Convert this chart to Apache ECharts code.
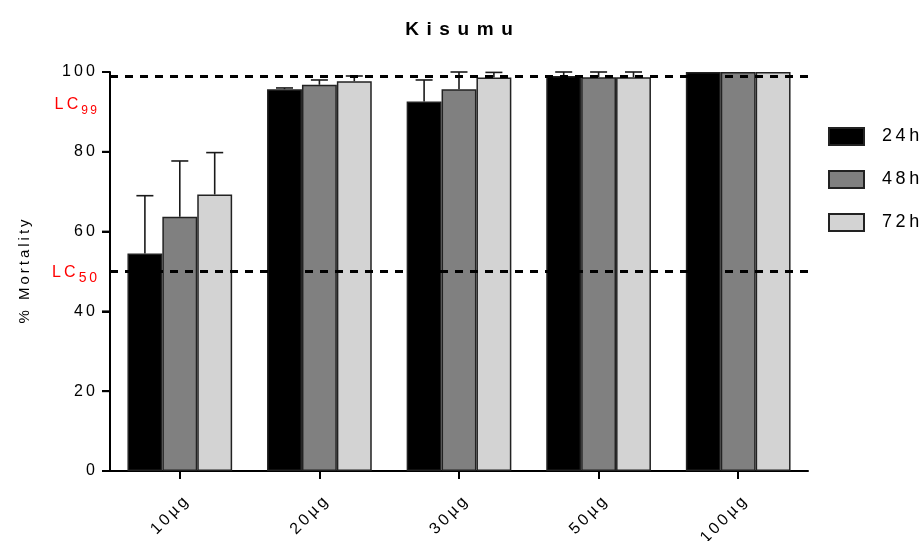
<!DOCTYPE html>
<html><head><meta charset="utf-8">
<script src="https://cdn.jsdelivr.net/npm/echarts@6/dist/echarts.min.js"></script>
<style>html,body{margin:0;padding:0;background:#fff}#c{width:923px;height:541px}</style>
</head><body><div id="c"></div>
<script>
var categories = ['10µg', '20µg', '30µg', '50µg', '100µg'];
var seriesNames = ['24h', '48h', '72h'];
var values24 = [54.5, 95.7, 92.6, 99.0, 100];
var values48 = [63.7, 96.8, 95.7, 98.7, 100];
var values72 = [69.3, 97.7, 98.6, 98.7, 100];
var err24 = [14.5, 0.3, 5.4, 1.0, 0];
var err48 = [14.0, 1.2, 4.3, 1.3, 0];
var err72 = [10.5, 1.3, 1.3, 1.3, 0];
var yTicks = [0, 20, 40, 60, 80, 100];
var lcLines = [99, 50];
var lcLabels = ['99', '50'];
var colors = ['#000000', '#808080', '#d3d3d3'];

var FONT = 'Arial, "Liberation Sans", sans-serif';
function sp(s){ return String(s).split('').join('\u2009'); }

var vals = [values24, values48, values72];
var errs = [err24, err48, err72];

var series = [];
seriesNames.forEach(function(n, i){
  series.push({
    name: n, type: 'bar', data: vals[i],
    barGap: 0, barCategoryGap: '25%',
    itemStyle: { color: colors[i], borderColor: '#222', borderWidth: 1.5 },
    z: 2
  });
});
seriesNames.forEach(function(n, i){
  series.push({
    type: 'custom', name: n + '_err',
    data: vals[i].map(function(v, k){ return [k, v, v + errs[i][k]]; }),
    encode: { x: 0, y: [1, 2] },
    z: 3, silent: true,
    renderItem: function(params, api){
      var k = api.value(0);
      var lo = api.coord([k, api.value(1)]);
      var hi = api.coord([k, api.value(2)]);
      var band = api.size([1, 0])[0];
      var bw = band * 0.75 / 3;
      var x = lo[0] + (i - 1) * bw;
      var cap = 8.5;
      if (api.value(2) - api.value(1) <= 0) return null;
      return { type: 'group', children: [
        { type: 'line', shape: { x1: x, y1: lo[1], x2: x, y2: hi[1] }, style: { stroke: '#1a1a1a', lineWidth: 1.6 } },
        { type: 'line', shape: { x1: x - cap, y1: hi[1], x2: x + cap, y2: hi[1] }, style: { stroke: '#1a1a1a', lineWidth: 1.6 } }
      ]};
    }
  });
});
// y-axis tick marks (drawn through the axis scale)
series.push({
  type: 'custom', name: 'yticks', silent: true, z: 5, clip: false,
  data: yTicks.map(function(v){ return [0, v]; }),
  encode: { x: 0, y: 1 },
  renderItem: function(params, api){
    var p = api.coord([0, api.value(1)]);
    var x0 = params.coordSys.x;
    return { type: 'line', shape: { x1: x0 - 8, y1: p[1], x2: x0, y2: p[1] }, style: { stroke: '#000', lineWidth: 2 } };
  }
});
// LC lines
series[0].markLine = {
  silent: true, symbol: 'none',
  lineStyle: { color: '#000', type: [8, 7], width: 2.8 },
  data: lcLines.map(function(v, i){
    return { yAxis: v, label: {
      show: true, position: 'start', distance: 13,
      offset: i === 0 ? [0, 33] : [0, 5],
      formatter: '{a|' + sp('LC') + '}{b|' + sp(lcLabels[i]) + '}',
      rich: {
        a: { color: '#ff0000', fontSize: 16, fontFamily: FONT, lineHeight: 24, verticalAlign: 'top' },
        b: { color: '#ff0000', fontSize: i === 0 ? 12 : 14, fontFamily: FONT, lineHeight: 24, padding: [i === 0 ? 8 : 7, 0, 0, 3], verticalAlign: 'top' }
      }
    }};
  })
};

var option = {
  animation: false,
  backgroundColor: '#fff',
  title: {
    text: 'Kisumu'.split('').join('\u2009\u2009'), left: 454, textAlign: 'center', top: 15,
    textStyle: { fontFamily: FONT, fontWeight: 'bold', fontSize: 19, color: '#000' }
  },
  legend: {
    data: seriesNames, orient: 'vertical', left: 828, top: 127, padding: 0,
    icon: 'rect',
    itemWidth: 35, itemHeight: 17, itemGap: 24,
    formatter: function(n){ return sp(n); },
    textStyle: { fontFamily: FONT, fontSize: 18, color: '#000', padding: [0, 0, 0, 13] }
  },
  grid: { left: 110, right: 115, top: 72, bottom: 70, containLabel: false, outerBoundsMode: 'none' },
  xAxis: {
    type: 'category', data: categories,
    axisLine: { show: true, lineStyle: { color: '#000', width: 2 } },
    axisTick: { show: true, alignWithLabel: true, length: 8, lineStyle: { width: 2, color: '#000' } },
    axisLabel: { rotate: 45, margin: 23, verticalAlign: 'top', fontFamily: FONT, fontSize: 16, color: '#000',
      formatter: function(v){ return sp(v); } }
  },
  yAxis: {
    type: 'value', min: 0, max: 100, interval: 20,
    name: sp('% Mortality'), nameLocation: 'middle', nameGap: 78, nameRotate: 90,
    nameTextStyle: { fontFamily: FONT, fontSize: 15, color: '#000' },
    axisLine: { show: true, lineStyle: { color: '#000', width: 2 } },
    axisTick: { show: true, length: 8, lineStyle: { width: 2, color: '#000' } },
    splitLine: { show: false },
    axisLabel: { fontFamily: FONT, fontSize: 16, color: '#000', margin: 15,
      formatter: function(v){ return sp(v); } }
  },
  series: series
};
var chart = echarts.init(document.getElementById('c'), null, { renderer: 'canvas' });
chart.setOption(option);
</script>
</body></html>
